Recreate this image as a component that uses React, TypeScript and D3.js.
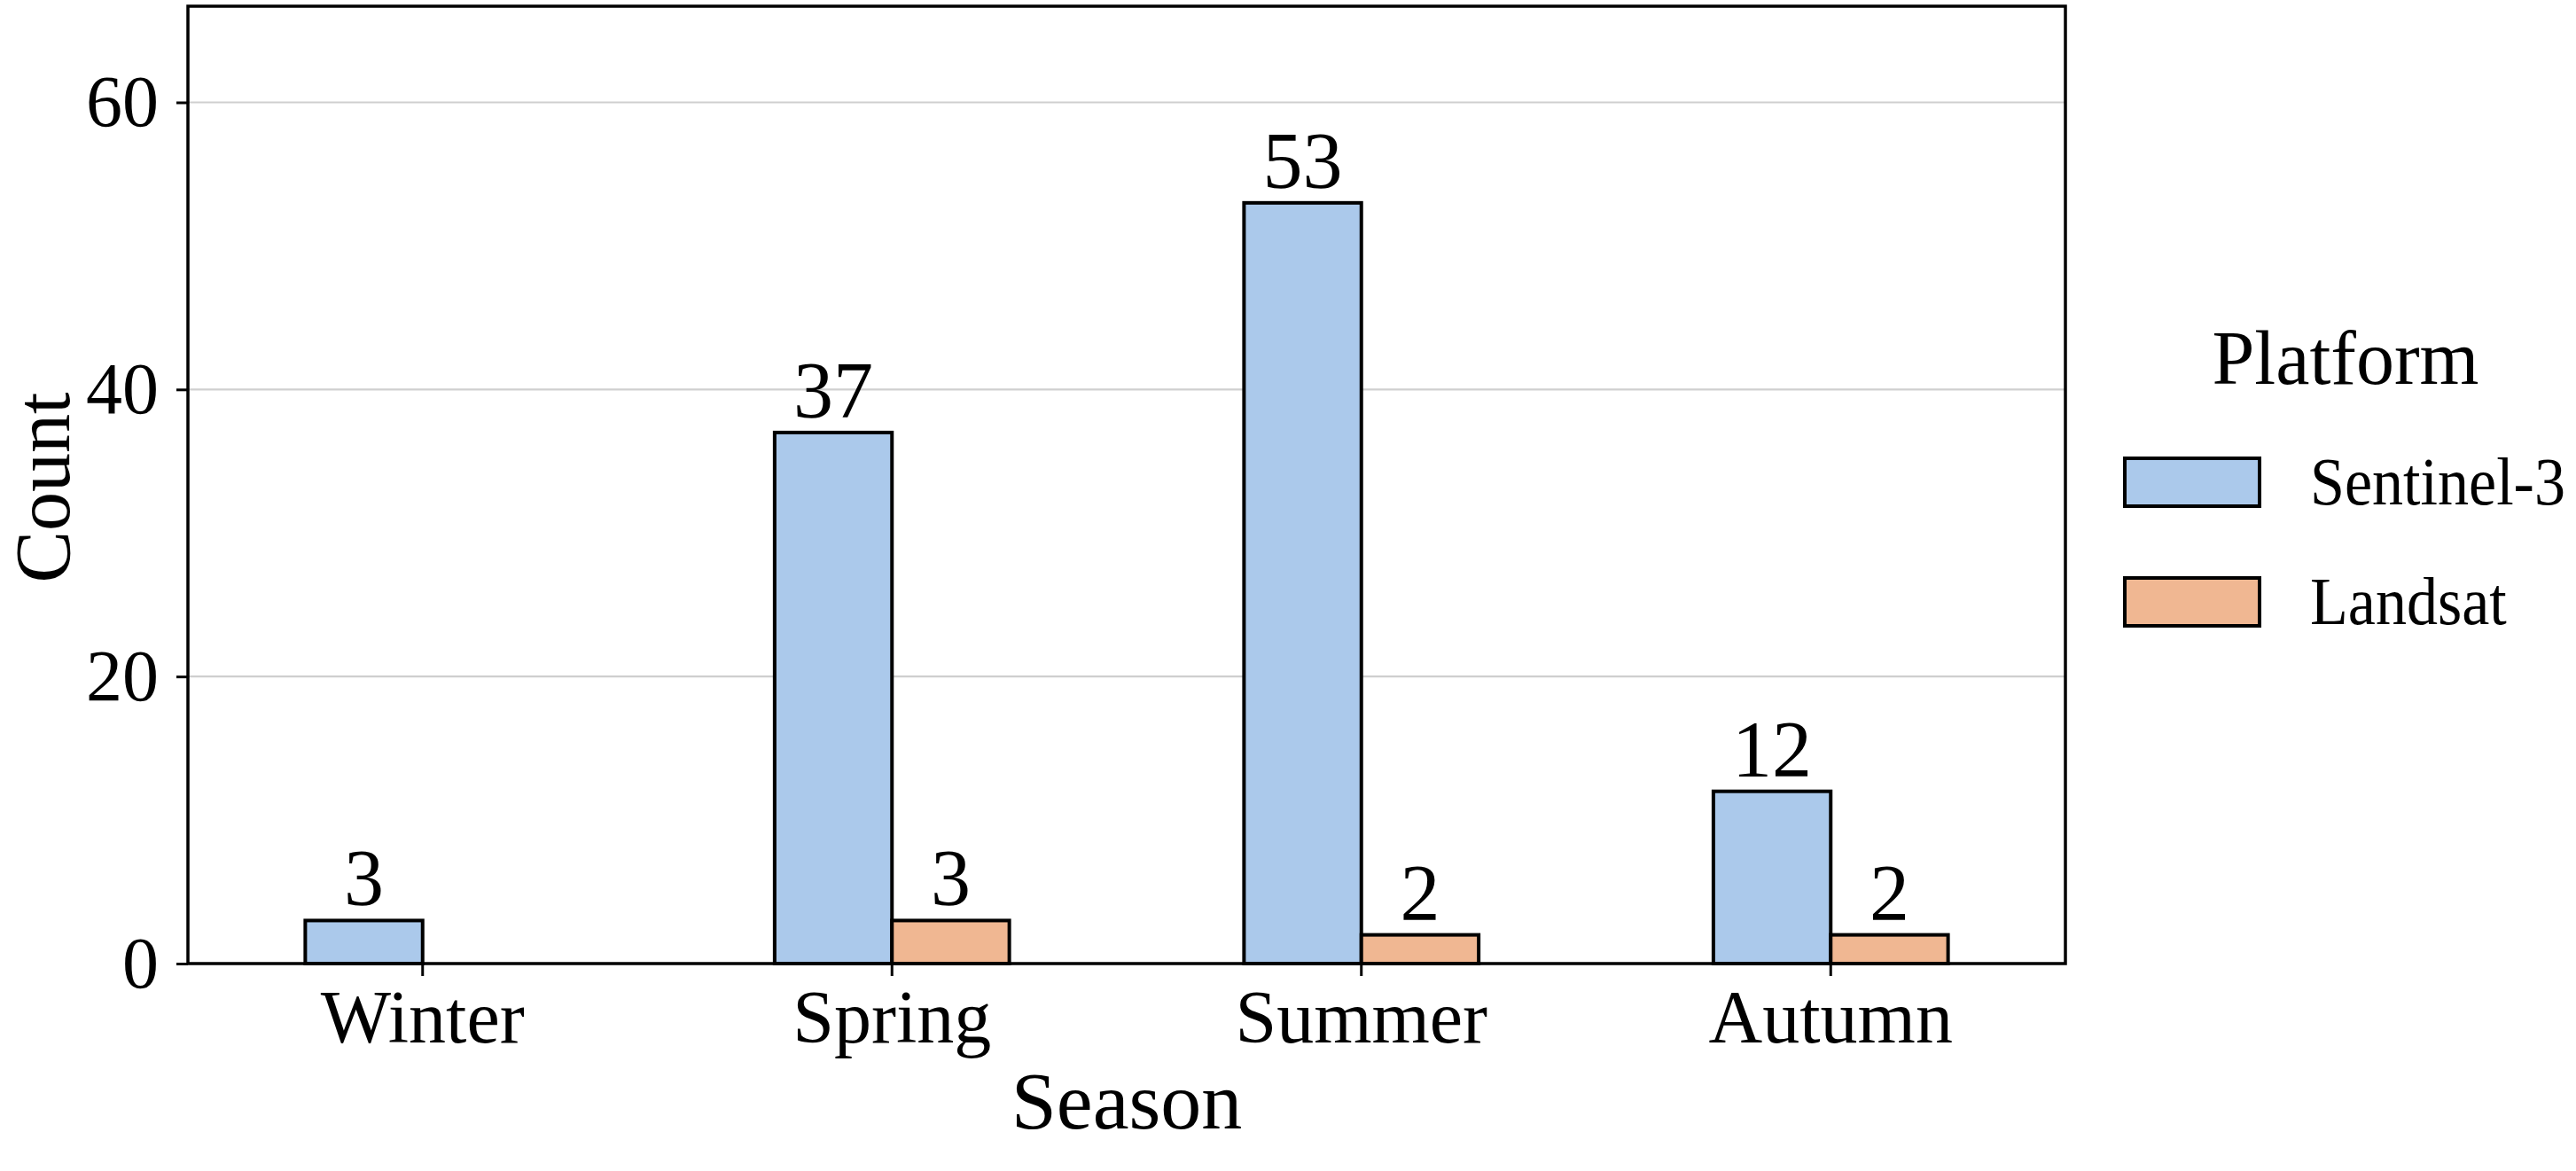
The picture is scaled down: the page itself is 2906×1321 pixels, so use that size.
import React from "react";
import * as d3 from "d3";

const seasons = ["Winter", "Spring", "Summer", "Autumn"];
const platforms = ["Sentinel-3", "Landsat"];
const sentinelCounts: (number | null)[] = [3, 37, 53, 12];
const landsatCounts: (number | null)[] = [null, 3, 2, 2];
const yTicks = [0, 20, 40, 60];
const yMax = 66.7;

const colors = ["#abc9eb", "#f0b792"];
const font = "'Liberation Serif', 'Times New Roman', serif";

const App: React.FC = () => {
  const svgRef = React.useRef<SVGSVGElement>(null);

  React.useEffect(() => {
    if (!svgRef.current) return;
    document.body.style.margin = "0";
    const svg = d3.select(svgRef.current);
    svg.selectAll("*").remove();

    const width = 2906;
    const height = 1321;
    const plot = { left: 212, right: 2330, top: 7, bottom: 1087 };

    svg.attr("width", width).attr("height", height);
    svg.append("rect").attr("width", width).attr("height", height).attr("fill", "#fff");

    const xScale = d3
      .scaleBand<string>()
      .domain(seasons)
      .range([plot.left, plot.right])
      .padding(0);
    const barW = xScale.bandwidth() * 0.25;
    const subScale = d3
      .scaleBand<string>()
      .domain(platforms)
      .range([-barW, barW])
      .padding(0);
    const yScale = d3
      .scaleLinear()
      .domain([0, yMax])
      .range([plot.bottom, plot.top]);

    // grid
    svg
      .append("g")
      .selectAll("line")
      .data(yTicks.filter(t => t > 0))
      .join("line")
      .attr("x1", plot.left)
      .attr("x2", plot.right)
      .attr("y1", d => yScale(d))
      .attr("y2", d => yScale(d))
      .attr("stroke", "#cfcfcf")
      .attr("stroke-width", 2.2);

    // bars + value labels
    const series = [sentinelCounts, landsatCounts];
    series.forEach((values, si) => {
      const g = svg.append("g");
      seasons.forEach((season, i) => {
        const v = values[i];
        if (v === null) return;
        const cx = (xScale(season) ?? 0) + xScale.bandwidth() / 2;
        const x0 = cx + (subScale(platforms[si]) ?? 0);
        g.append("rect")
          .attr("x", x0)
          .attr("y", yScale(v))
          .attr("width", subScale.bandwidth())
          .attr("height", yScale(0) - yScale(v))
          .attr("fill", colors[si])
          .attr("stroke", "#000")
          .attr("stroke-width", 4);
        g.append("text")
          .attr("x", x0 + subScale.bandwidth() / 2)
          .attr("y", yScale(v) - 17)
          .attr("text-anchor", "middle")
          .style("font-family", font)
          .style("font-size", "90px")
          .style("fill", "#000")
          .text(String(v));
      });
    });

    // frame
    svg
      .append("rect")
      .attr("x", plot.left)
      .attr("y", plot.top)
      .attr("width", plot.right - plot.left)
      .attr("height", plot.bottom - plot.top)
      .attr("fill", "none")
      .attr("stroke", "#000")
      .attr("stroke-width", 3.5);

    // y axis
    const yAxis = svg
      .append("g")
      .attr("transform", `translate(${plot.left},0)`)
      .call(d3.axisLeft(yScale).tickValues(yTicks).tickSize(13).tickPadding(20));
    yAxis.select(".domain").remove();
    yAxis.selectAll(".tick line").attr("stroke", "#000").attr("stroke-width", 3);
    yAxis
      .selectAll(".tick text")
      .style("font-family", font)
      .style("font-size", "82px")
      .attr("fill", "#000");

    // x axis
    const xAxis = svg
      .append("g")
      .attr("transform", `translate(0,${plot.bottom})`)
      .call(d3.axisBottom(xScale).tickSize(14).tickPadding(0));
    xAxis.select(".domain").remove();
    xAxis.selectAll(".tick line").attr("stroke", "#000").attr("stroke-width", 3);
    xAxis
      .selectAll(".tick text")
      .attr("dy", null)
      .attr("y", 1176 - plot.bottom)
      .style("font-family", font)
      .style("font-size", "84px")
      .attr("fill", "#000");

    // axis titles
    svg
      .append("text")
      .attr("x", (plot.left + plot.right) / 2)
      .attr("y", 1273)
      .attr("text-anchor", "middle")
      .style("font-family", font)
      .style("font-size", "92px")
      .text("Season");
    svg
      .append("text")
      .attr("transform", `translate(78,550) rotate(-90)`)
      .attr("text-anchor", "middle")
      .style("font-family", font)
      .style("font-size", "88px")
      .text("Count");

    // legend
    const legend = svg.append("g");
    legend
      .append("text")
      .attr("x", 2646)
      .attr("y", 433)
      .attr("text-anchor", "middle")
      .style("font-family", font)
      .style("font-size", "86px")
      .text("Platform");
    const rowY = [517, 652];
    platforms.forEach((name, i) => {
      legend
        .append("rect")
        .attr("x", 2397)
        .attr("y", rowY[i])
        .attr("width", 152)
        .attr("height", 54)
        .attr("fill", colors[i])
        .attr("stroke", "#000")
        .attr("stroke-width", 4);
      legend
        .append("text")
        .attr("transform", `translate(2606,${rowY[i] + 52}) scale(0.91,1)`)
        .style("font-family", font)
        .style("font-size", "77px")
        .text(name);
    });
  }, []);

  return <svg ref={svgRef} style={{ display: "block" }} />;
};

export default App;
